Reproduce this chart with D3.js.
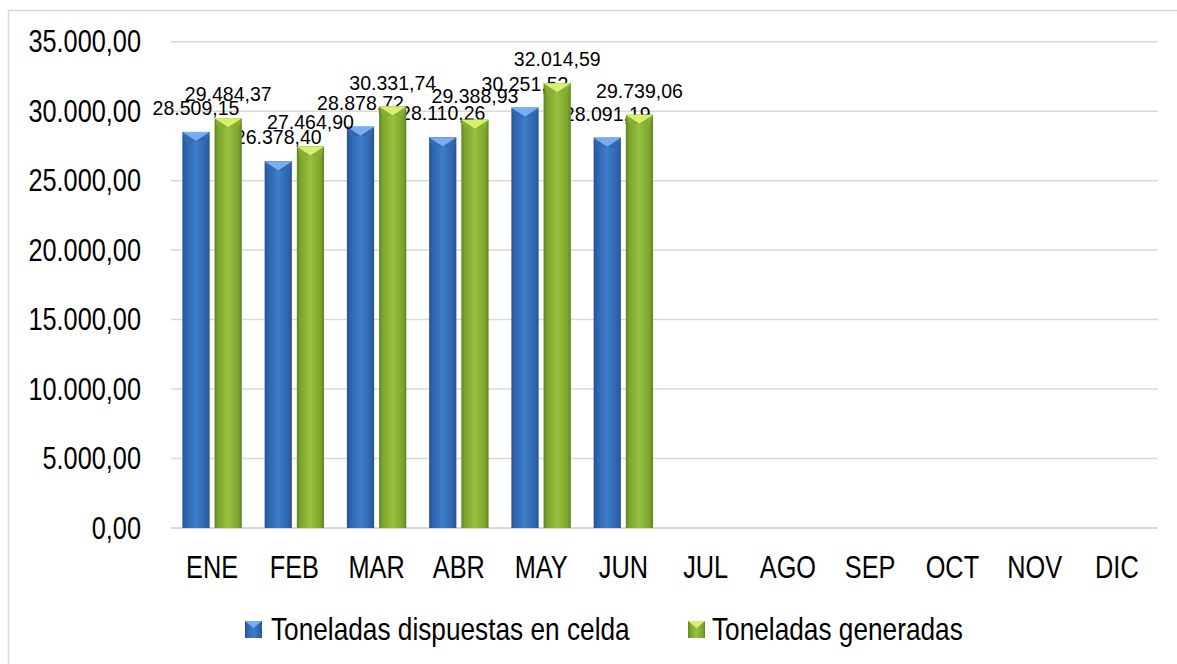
<!DOCTYPE html>
<html><head><meta charset="utf-8">
<script src="https://cdn.jsdelivr.net/npm/d3@7"></script>
<style>
html,body{margin:0;padding:0;background:#fff;}
text{font-family:"Liberation Sans",Arial,sans-serif;fill:#000;}
</style></head>
<body>
<svg id="c" width="1177" height="664"></svg>
<script>
const months = ["ENE","FEB","MAR","ABR","MAY","JUN","JUL","AGO","SEP","OCT","NOV","DIC"];
const seriesNames = ["Toneladas dispuestas en celda","Toneladas generadas"];
const dispuestas = [28509.15, 26378.40, 28878.72, 28110.26, 30251.52, 28091.19];
const generadas  = [29484.37, 27464.90, 30331.74, 29388.93, 32014.59, 29739.06];
const yTicks = [0,5000,10000,15000,20000,25000,30000,35000];

const svg = d3.select("#c");
const loc = d3.formatLocale({decimal:",", thousands:".", grouping:[3], currency:["",""]});
const fmt = loc.format(",.2f");

const plotLeft = 171, plotRight = 1158, plotTop = 41.7, plotBottom = 528;
const x0 = d3.scaleBand().domain(months).range([plotLeft, plotRight]).padding(0);
const x1 = d3.scaleBand().domain([0,1]).range([11.4, 70.8]).paddingInner(0.155);
const y = d3.scaleLinear().domain([0,35000]).range([plotBottom, plotTop]);

const defs = svg.append("defs");
function grad(id, stops){
  const g = defs.append("linearGradient").attr("id", id).attr("x1","0").attr("x2","1").attr("y1","0").attr("y2","0");
  stops.forEach(s => g.append("stop").attr("offset", s[0]).attr("stop-color", s[1]));
}
grad("gBlue", [[0,"#23528f"],[0.12,"#2e63ab"],[0.5,"#3d7dca"],[0.88,"#2e63ab"],[1,"#23528f"]]);
grad("gGreen", [[0,"#5f8320"],[0.12,"#7ba32e"],[0.5,"#98c23e"],[0.88,"#7ba32e"],[1,"#5f8320"]]);
const fills = ["url(#gBlue)","url(#gGreen)"];
const bevel = ["#76aef0","#d8f06e"];
const bevelSide = ["#3468b0","#86ad34"];

// border
svg.append("rect").attr("x",8.5).attr("y",10.5).attr("width",1190).attr("height",680)
  .attr("fill","none").attr("stroke","#d9d9d9").attr("stroke-width",1.5);

// gridlines
svg.append("g").selectAll("line").data(yTicks).join("line")
  .attr("x1", plotLeft).attr("x2", plotRight)
  .attr("y1", d => y(d)).attr("y2", d => y(d))
  .attr("stroke", "#d9d9d9").attr("stroke-width", d => d===0 ? 2 : 1.5);

// y labels
svg.append("g").selectAll("text").data(yTicks).join("text")
  .attr("transform", d => `translate(141,${y(d)+10.5}) scale(0.83,1)`)
  .attr("text-anchor","end").attr("font-size", 30.5)
  .text(d => fmt(d));

// x labels
svg.append("g").selectAll("text").data(months).join("text")
  .attr("transform", d => `translate(${x0(d)+x0.bandwidth()/2},577.7) scale(0.83,1)`)
  .attr("text-anchor","middle").attr("font-size", 30.5)
  .text(d => d);

// bars
const data = [];
[dispuestas, generadas].forEach((arr, s) => arr.forEach((v, i) => data.push({s, m: months[i], v})));
const bw = x1.bandwidth();
const gBars = svg.append("g");
data.forEach(d => {
  const bx = x0(d.m) + x1(d.s);
  const by = y(d.v);
  const g = gBars.append("g");
  g.append("rect").attr("x", bx).attr("y", by).attr("width", bw).attr("height", y(0)-by)
    .attr("fill", fills[d.s]);
  const bh = 9;
  g.append("path").attr("d", `M${bx},${by}L${bx+3},${by+bh}L${bx+bw-3},${by+bh}L${bx+bw},${by}Z`)
    .attr("fill", bevelSide[d.s]);
  g.append("path").attr("d", `M${bx},${by}L${bx+bw/2},${by+bh}L${bx+bw},${by}Z`)
    .attr("fill", bevel[d.s]);
  g.append("text")
    .attr("transform", `translate(${bx+bw/2},${by-17}) scale(0.93,1)`)
    .attr("text-anchor","middle").attr("font-size", 21)
    .text(fmt(d.v));
});

// legend
const legX = [[245,271],[688,712]];
seriesNames.forEach((n, s) => {
  const g = svg.append("g");
  const mx = legX[s][0], my = 621;
  g.append("rect").attr("x", mx).attr("y", my).attr("width", 17).attr("height", 17).attr("fill", fills[s]);
  g.append("path").attr("d", `M${mx},${my}L${mx+8.5},${my+7}L${mx+17},${my}Z`).attr("fill", bevel[s]);
  g.append("text").attr("transform", `translate(${legX[s][1]},640) scale(0.86,1)`)
    .attr("font-size", 30.5).text(n);
});
</script>
</body></html>
